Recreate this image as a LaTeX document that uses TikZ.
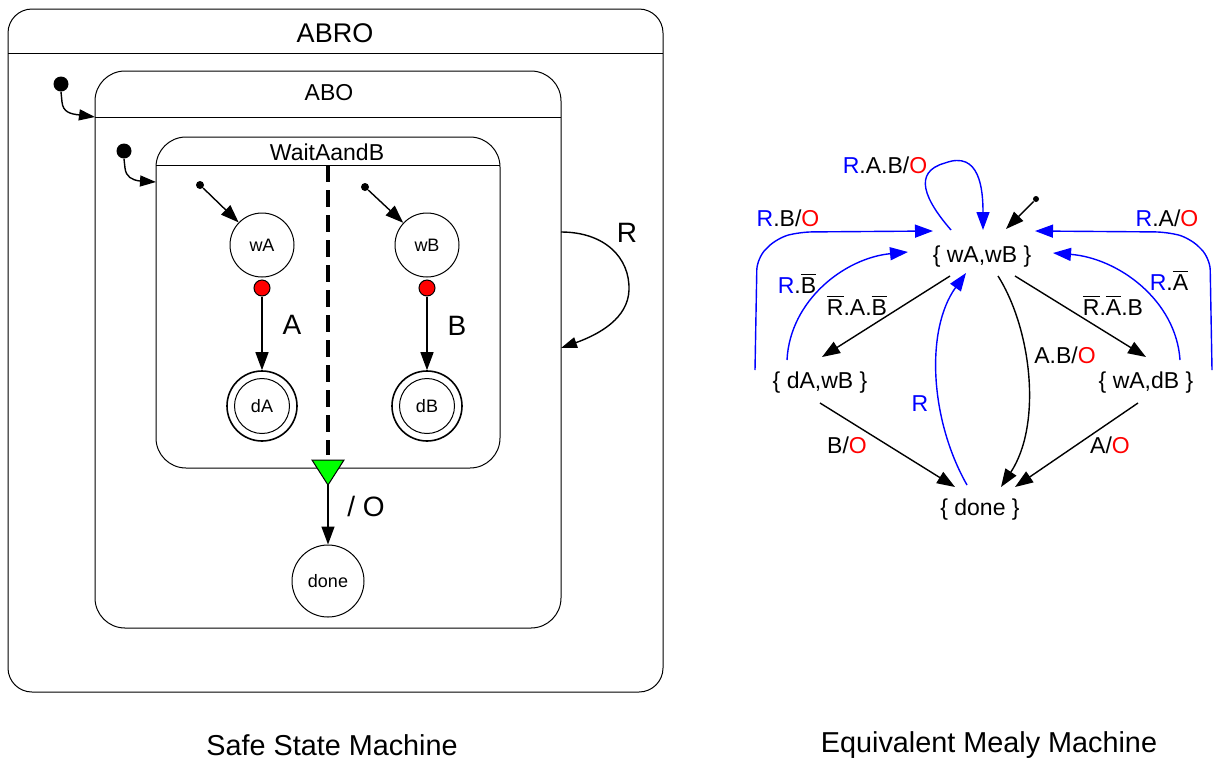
\documentclass[tikz,border=0pt]{standalone}
\usepackage{fontspec}
\setmainfont{Liberation Sans}
\usetikzlibrary{arrows.meta,calc}
\definecolor{mblue}{RGB}{0,0,255}
\definecolor{mred}{RGB}{255,0,0}
\definecolor{mgreen}{RGB}{0,255,0}
\newcommand{\fsz}[1]{\fontsize{#1}{#1}\selectfont}
\newcommand{\ovl}[1]{$\overline{\mbox{#1}}$}
\newcommand{\bl}[1]{{\color{mblue}#1}}
\newcommand{\rd}[1]{{\color{mred}#1}}
\begin{document}
\begin{tikzpicture}[x=0.5pt,y=-0.5pt,
  box/.style={draw,line width=0.5pt},
  arr/.style={line width=0.7pt,-{Triangle[length=9pt,width=6.5pt]}},
  sarr/.style={line width=0.7pt,-{Triangle[length=8pt,width=5.5pt]}},
  barr/.style={arr,draw=mblue,-{Triangle[length=9pt,width=6.5pt,fill=mblue,color=mblue]}},
  st/.style={circle,draw,line width=0.5pt,minimum size=32pt,inner sep=0pt,font=\fsz{9}},
  dot/.style={circle,fill,inner sep=0pt,minimum size=#1},
  ms/.style={inner sep=0pt,font=\fsz{11.5}},
  lbl/.style={inner sep=0pt,anchor=base,font=\fsz{11.5}},
  big/.style={inner sep=0pt,font=\fsz{#1}}]
\useasboundingbox (0,0) rectangle (1215,761);

% ABRO
\draw[box,rounded corners=12pt] (8,9) rectangle (663,692);
\draw[box] (8,53) -- (663,53);
\node[big=13.5] (abro) at (335,33) {ABRO};

% ABO
\draw[box,rounded corners=15pt] (95,71) rectangle (561,628);
\draw[box] (95,117) -- (561,117);
\node[big=11.5] (abo) at (329,93) {ABO};
\coordinate (aboin) at (95,117);
\node[dot=7.5pt] (i1) at (61,84) {};
\draw[sarr] (i1.south) -- (62,102) .. controls (63,112) and (70,114) .. (80,115) -- (aboin);

% WaitAandB
\draw[box,rounded corners=15pt] (156,137) rectangle (500,468);
\draw[box] (156,165) -- (500,165);
\node[big=11.5] (wab) at (327,152) {WaitAandB};
\node[dot=7.5pt] (i2) at (124,151) {};
\coordinate (wabin) at (156,182);
\draw[sarr] (i2.south) -- (125,168) .. controls (126,177) and (132,180) .. (140,181) -- (wabin);

% dashed separator
\coordinate (dtop) at (328,165);
\coordinate (dbot) at (328,455);
\draw[line width=2pt,dash pattern=on 8.5pt off 4pt] (dtop) -- (dbot);

% regions
\node[st] (wA) at (262,245) {wA};
\node[st] (wB) at (427,245) {wB};
\node[dot=4pt] (iA) at (200,185) {};
\node[dot=4pt] (iB) at (365,187) {};
\draw[arr] (iA) -- (wA);
\draw[arr] (iB) -- (wB);
\node[circle,draw,fill=mred,minimum size=8pt,inner sep=0pt,line width=0.5pt] (rA) at (262,288) {};
\node[circle,draw,fill=mred,minimum size=8pt,inner sep=0pt,line width=0.5pt] (rB) at (427,288) {};
\node[circle,draw,line width=0.8pt,minimum size=35pt,inner sep=0pt] (dAo) at (262,406) {};
\node[st,minimum size=27.5pt] (dA) at (262,406) {dA};
\node[circle,draw,line width=0.8pt,minimum size=35pt,inner sep=0pt] (dBo) at (427,406) {};
\node[st,minimum size=27.5pt] (dB) at (427,406) {dB};
\draw[arr] (rA) -- (dAo);
\draw[arr] (rB) -- (dBo);
\node[big=14] (la) at (292,325) {A};
\node[big=14] (lb) at (457,326) {B};

% termination
\coordinate (tri) at (328,485);
\filldraw[fill=mgreen,line width=0.5pt] (312,460) -- (344,460) -- (tri) -- cycle;
\node[st,minimum size=36pt] (done) at (328,581) {done};
\draw[arr] (tri) -- (done);
\node[big=14] (lo) at (366,506) {/ O};

% R loop
\coordinate (r1) at (561,232);
\coordinate (r2) at (561,348);
\draw[sarr] (r1) .. controls (605,232) and (630,258) .. (629,290) .. controls (628,318) and (600,334) .. (r2);
\node[big=14] (lr) at (627,233) {R};

% ===== Mealy machine =====
\node[ms] (ww) at (982,257) {\{ wA,wB \}};
\node[ms] (dw) at (820,383) {\{ dA,wB \}};
\node[ms] (wd) at (1146,383) {\{ wA,dB \}};
\node[ms] (dn) at (980,510) {\{ done \}};

\node[dot=3pt] (im) at (1036,199) {};
\draw[arr] (im) -- ($(ww)+(24,-28)$);

% self loop
\draw[barr] ($(ww)+(-31,-27)$) .. controls (925,200) and (912,172) .. (945,163)
   .. controls (980,150) and (983,190) .. ($(ww)+(1,-27)$);
\node[lbl] (l1) at (885,173) {\bl{R}.A.B/\rd{O}};

% outer returns
\draw[barr,rounded corners=6pt] ($(dw)+(-65,-13)$) -- (757,258) -- (777,238) -- (800,232) -- ($(ww)+(-49,-26)$);
\node[lbl] (l2) at (788,226) {\bl{R}.B/\rd{O}};
\draw[barr,rounded corners=6pt] ($(wd)+(66,-13)$) -- (1210,258) -- (1190,238) -- (1167,232) -- ($(ww)+(53,-26)$);
\node[lbl] (l3) at (1167,226) {\bl{R}.A/\rd{O}};

% inner returns
\draw[barr] ($(dw)+(-33,-23)$) .. controls (790,300) and (845,258) .. ($(ww)+(-74,-5)$);
\node[lbl] (l4) at (797,293) {\bl{R}.\ovl{B}};
\draw[barr] ($(wd)+(34,-23)$) .. controls (1176,300) and (1118,258) .. ($(ww)+(71,-4)$);
\node[lbl] (l5) at (1169,290) {\bl{R}.\ovl{A}};

% forward transitions
\draw[arr] ($(ww)+(-32,19)$) -- ($(dw)+(2,-26)$);
\node[lbl] (l6) at (857,315) {\ovl{R}.A.\ovl{B}};
\draw[arr] ($(ww)+(33,19)$) -- ($(wd)+(0,-26)$);
\node[lbl] (l7) at (1113,315) {\ovl{R}.\ovl{A}.B};

\draw[arr] ($(ww)+(16,19)$) .. controls (1032,330) and (1042,425) .. ($(dn)+(21,-23)$);
\node[lbl] (l8) at (1065,363) {A.B/\rd{O}};

\draw[barr] ($(dn)+(-13,-25)$) .. controls (930,420) and (925,330) .. ($(ww)+(-16,16)$);
\node[lbl] (l9) at (920,411) {\bl{R}};

\draw[arr] ($(dw)+(0,20)$) -- ($(dn)+(-25,-23)$);
\node[lbl] (l10) at (847,453) {B/\rd{O}};
\draw[arr] ($(wd)+(-8,20)$) -- ($(dn)+(35,-23)$);
\node[lbl] (l11) at (1110,453) {A/\rd{O}};

% captions
\node[big=14.4] (c1) at (332,745) {Safe State Machine};
\node[big=14.4] (c2) at (989,745) {Equivalent Mealy Machine};
\end{tikzpicture}
\end{document}
